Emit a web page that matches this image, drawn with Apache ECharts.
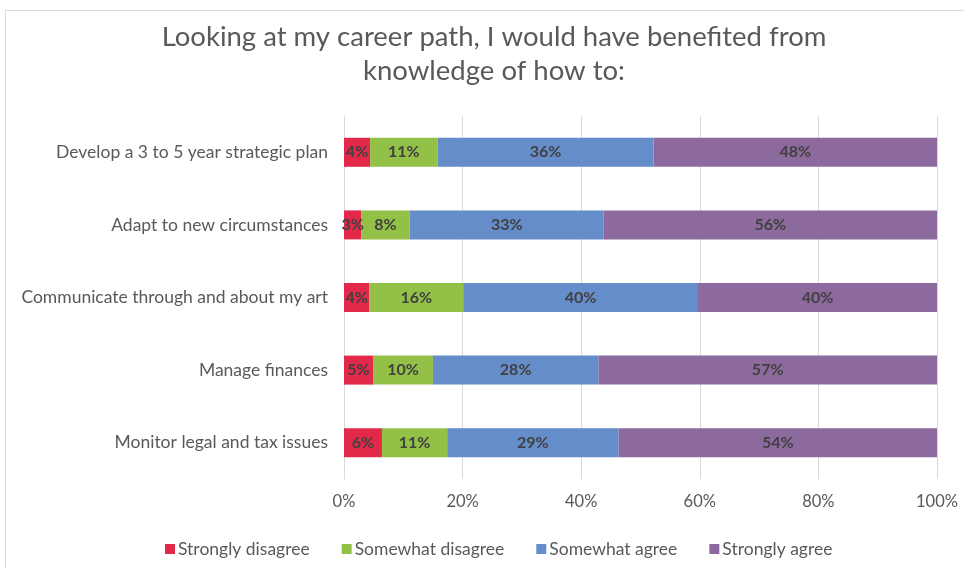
<!DOCTYPE html>
<html>
<head>
<meta charset="utf-8">
<script src="https://cdn.jsdelivr.net/npm/echarts@6/dist/echarts.min.js"></script>
<style>
html,body{margin:0;padding:0;background:#fff;}
#frame{position:absolute;left:5px;top:10px;width:1000px;height:600px;border:1px solid #d9d9d9;box-sizing:border-box;}
#chart{position:absolute;left:0;top:0;width:964px;height:568px;}
</style>
</head>
<body>
<div id="frame"></div>
<div id="chart"></div>
<script>
const categories = [
  "Develop a 3 to 5 year strategic plan",
  "Adapt to new circumstances",
  "Communicate through and about my art",
  "Manage finances",
  "Monitor legal and tax issues"
];
const seriesNames = ["Strongly disagree", "Somewhat disagree", "Somewhat agree", "Strongly agree"];
const stronglyDisagree = [4.4, 2.9, 4.3, 4.9, 6.4];
const somewhatDisagree = [11.4, 8.2, 15.8, 10.1, 11.0];
const somewhatAgree    = [36.4, 32.7, 39.6, 27.9, 28.9];
const stronglyAgree    = [47.8, 56.2, 40.3, 57.1, 53.7];
const tickLabels = ["0%", "20%", "40%", "60%", "80%", "100%"];
const colors = ["#e3294a", "#93c047", "#658dc9", "#8c6a9e"];

const chart = echarts.init(document.getElementById('chart'));
const font = "Lato, 'Open Sans', sans-serif";
const dataArr = [stronglyDisagree, somewhatDisagree, somewhatAgree, stronglyAgree];
chart.setOption({
  animation: false,
  title: {
    text: "Looking at my career path, I would have benefited from\nknowledge of how to:",
    left: 489, top: 15, textAlign: 'center',
    textStyle: {fontFamily: font, fontSize: 27.5, fontWeight: 'normal', color: '#595959', lineHeight: 34}
  },
  legend: {
    bottom: 5, left: 160,
    itemWidth: 10, itemHeight: 10, itemGap: 32,
    icon: 'rect',
    textStyle: {fontFamily: font, fontSize: 17.5, color: '#595959', padding: [0, 0, 0, -2]},
    data: seriesNames
  },
  grid: {left: 344, right: 27, top: 116, bottom: 89, containLabel: false},
  xAxis: {
    type: 'value', min: 0, max: 100, interval: 20,
    axisLabel: {
      formatter: v => tickLabels[Math.round(v / 20)],
      fontFamily: font, fontSize: 16.5, color: '#595959', margin: 14
    },
    splitLine: {lineStyle: {color: '#d9d9d9', width: 1}},
    axisLine: {show: false}, axisTick: {show: false}
  },
  yAxis: {
    type: 'category', inverse: true, data: categories,
    axisLabel: {fontFamily: font, fontSize: 17.5, color: '#595959', margin: 16},
    axisLine: {show: true, lineStyle: {color: '#d9d9d9'}},
    axisTick: {show: false}
  },
  series: seriesNames.map((n, i) => ({
    name: n, type: 'bar', stack: 'total', barWidth: 29,
    itemStyle: {color: colors[i]},
    label: {
      show: true, position: 'inside',
      formatter: p => Math.round(p.value) + '%',
      fontFamily: font, fontSize: 16, fontWeight: 'bold', color: '#404040'
    },
    data: dataArr[i]
  }))
});
</script>
</body>
</html>
